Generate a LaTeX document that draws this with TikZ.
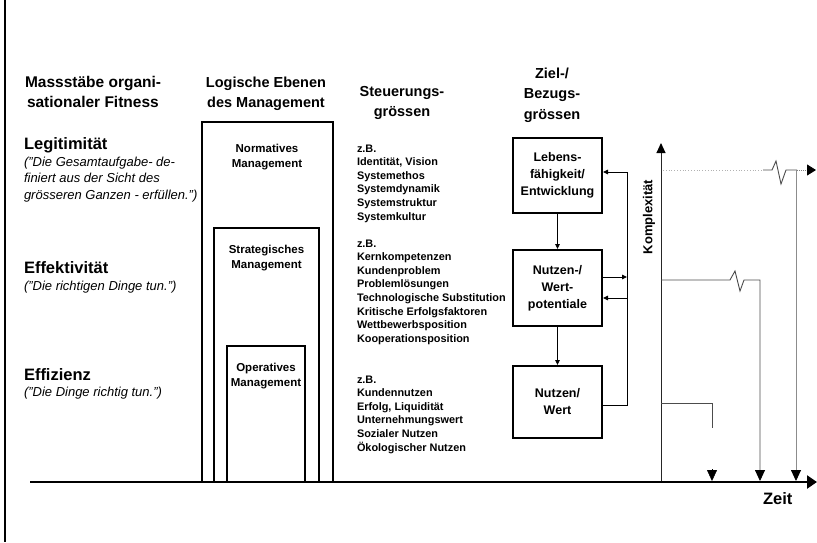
\documentclass[tikz,border=0pt]{standalone}
\usepackage{fontspec}
\setmainfont{Liberation Sans}
\usetikzlibrary{arrows.meta}
% stacked lines whose reference point is the first baseline
\newcommand\stackL[1]{\vtop{\halign{##\hfil\cr#1\crcr}}}
\newcommand\stackC[1]{\vtop{\halign{\hfil##\hfil\cr#1\crcr}}}

\begin{document}
\begin{tikzpicture}[x=1pt,y=-1pt,
  txt/.style={inner sep=0pt, outer sep=0pt},
  head/.style={txt, font=\fontsize{14.5}{20.5}\selectfont\bfseries},
  crit/.style={txt, anchor=base west, font=\fontsize{16.5}{20}\selectfont\bfseries},
  quote/.style={txt, anchor=base west, font=\fontsize{13}{16.7}\selectfont\itshape},
  lst/.style={txt, anchor=base west, font=\fontsize{10.9}{13.6}\selectfont\bfseries},
  lvl/.style={txt, anchor=base, font=\fontsize{11.5}{15}\selectfont\bfseries},
  lvlbox/.style={draw, line width=1.6pt},
  zbox/.style={draw, line width=2pt, minimum width=89pt, inner sep=0pt,
    align=center, font=\fontsize{12.5}{17}\selectfont\bfseries},
  flow/.style={line width=0.9pt, -{Triangle[length=5pt,width=4.5pt]}},
  stepline/.style={line width=0.9pt, black!70},
  downtip/.style={-{Triangle[length=11pt,width=10pt,color=black]}},
]
\useasboundingbox (0,0) rectangle (817,542);

% left margin rule
\draw[line width=2pt] (5,0) -- (5,542);

% column headers
\node[head, anchor=base west, font=\fontsize{15.5}{20.5}\selectfont\bfseries] (hdrA) at (25,87) {\stackL{Massstäbe organi-\cr\kern2pt sationaler Fitness}};
\node[head, anchor=base] (hdrB) at (266,87) {\stackC{Logische Ebenen\cr des Management}};
\node[head, anchor=base] (hdrC) at (402,96) {\stackC{Steuerungs-\cr grössen}};
\node[head, anchor=base] (hdrD) at (552,78) {\stackC{Ziel-/\cr Bezugs-\cr grössen}};

% fitness criteria
\node[crit] (legit) at (24,149) {Legitimität};
\node[quote] (legitQ) at (24,166) {\stackL{("Die Gesamtaufgabe- de-\cr finiert aus der Sicht des\cr grösseren Ganzen - erfüllen.")}};
\node[crit] (effekt) at (24,273) {Effektivität};
\node[quote] (effektQ) at (24,290) {("Die richtigen Dinge tun.")};
\node[crit] (effiz) at (24,380) {Effizienz};
\node[quote] (effizQ) at (24,396) {("Die Dinge richtig tun.")};

% nested management levels
\draw[lvlbox] (202,482) rectangle (333,122);
\draw[lvlbox] (214,482) rectangle (319,228);
\draw[lvlbox] (227,482) rectangle (305,346);
\node[lvl] (lvlN) at (267,152) {\stackC{Normatives\cr Management}};
\node[lvl] (lvlS) at (266.5,253) {\stackC{Strategisches\cr Management}};
\node[lvl] (lvlO) at (266,371) {\stackC{Operatives\cr Management}};

% steering quantities
\node[lst] (zb1) at (357,152) {\stackL{z.B.\cr Identität, Vision\cr Systemethos\cr Systemdynamik\cr Systemstruktur\cr Systemkultur}};
\node[lst] (zb2) at (357,247) {\stackL{z.B.\cr Kernkompetenzen\cr Kundenproblem\cr Problemlösungen\cr Technologische Substitution\cr Kritische Erfolgsfaktoren\cr Wettbewerbsposition\cr Kooperationsposition}};
\node[lst] (zb3) at (357,383) {\stackL{z.B.\cr Kundennutzen\cr Erfolg, Liquidität\cr Unternehmungswert\cr Sozialer Nutzen\cr Ökologischer Nutzen}};

% target quantities
\node[zbox, minimum height=75pt] (leb) at (557.5,175.5) {Lebens-\\fähigkeit/\\Entwicklung};
\node[zbox, minimum height=76pt] (nwp) at (557.5,288) {Nutzen-/\\Wert-\\potentiale};
\node[zbox, minimum height=72pt] (nw) at (557.5,402) {Nutzen/\\Wert};

\draw[flow] (leb.south) -- (nwp.north);
\draw[flow] (nwp.south) -- (nw.north);

% feedback loop
\coordinate (fbB) at (627,405);
\coordinate (fbT) at (627,172);
\coordinate (fbOut) at (627,277);
\coordinate (fbIn) at (627,298);
\draw[flow] (nw.east |- fbB) -- (fbB) -- (fbT) -- (leb.east |- fbT);
\draw[flow] (nwp.east |- fbOut) -- (fbOut);
\draw[flow] (fbIn) -- (nwp.east |- fbIn);

% complexity axis
\coordinate (kBase) at (661,482);
\coordinate (kTop) at (661,143);
\draw[line width=1pt, black!85, -{Triangle[length=10pt,width=9pt,color=black]}] (kBase) -- (kTop);
\node[txt, rotate=90, font=\fontsize{13}{15}\selectfont\bfseries] (kx) at (649,217) {Komplexität};

% time axis
\coordinate (tStart) at (30,482);
\coordinate (tEnd) at (817,482);
\draw[line width=2.4pt, -{Triangle[length=10pt,width=13pt]}] (tStart) -- (tEnd);
\node[txt, anchor=base west, font=\fontsize{16.5}{18}\selectfont\bfseries] (zeit) at (763,504) {Zeit};

% complexity steps
\coordinate (s1a) at (661,403);
\coordinate (s1b) at (712,403);
\draw[stepline] (s1a) -- (s1b) -- (712,428);
\draw[downtip] (712,469) -- (712,481);

\coordinate (s2a) at (661,280);
\coordinate (s2b) at (760,280);
\draw[stepline, downtip] (s2a) -- (730,280) -- (735,271) -- (740,291) -- (744,280) -- (s2b) -- (760,481);

\coordinate (s3a) at (663,170);
\coordinate (s3b) at (797,170);
\draw[black!30, line width=0.8pt, dotted] (s3a) -- (763,170);
\draw[stepline] (763,170) -- (772,170) -- (776,161) -- (781,184) -- (786,170) -- (s3b);
\draw[black!50, line width=0.9pt, densely dotted, -{Triangle[length=9pt,width=11pt,color=black]}] (s3b) -- (816,170);
\draw[black!45, line width=0.9pt, downtip] (796,170) -- (796,481);

\end{tikzpicture}
\end{document}
